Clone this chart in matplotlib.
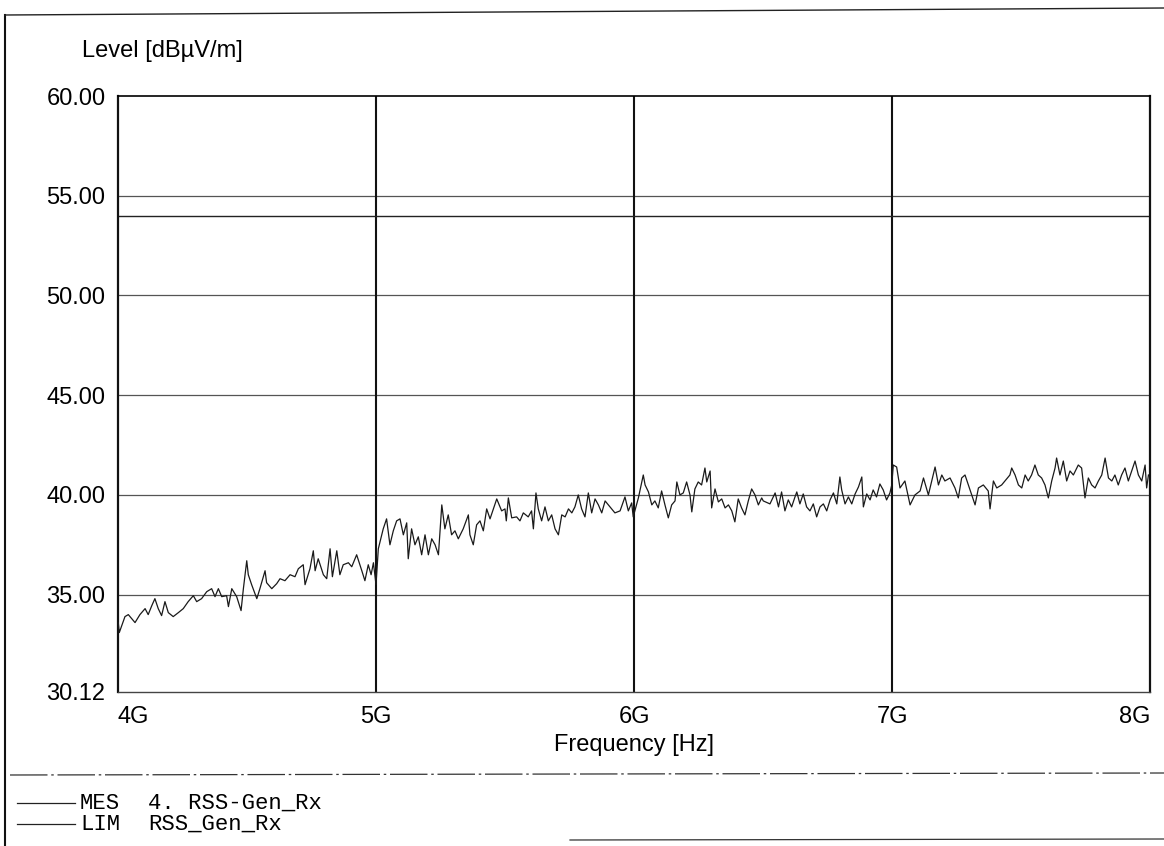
import numpy as np
import matplotlib
matplotlib.use("Agg")
import matplotlib.pyplot as plt
from matplotlib.lines import Line2D

freq_ghz = [
    4.001, 4.005, 4.027, 4.040, 4.066, 4.085, 4.105, 4.117, 4.131, 4.143,
    4.156, 4.169, 4.182, 4.195, 4.214, 4.234, 4.253, 4.272, 4.292, 4.305,
    4.324, 4.344, 4.363, 4.376, 4.389, 4.402, 4.421, 4.428, 4.441, 4.460,
    4.477, 4.486, 4.499, 4.505, 4.518, 4.538, 4.550, 4.570, 4.576, 4.596,
    4.615, 4.628, 4.647, 4.667, 4.686, 4.699, 4.718, 4.725, 4.744, 4.757,
    4.764, 4.776, 4.796, 4.809, 4.822, 4.831, 4.848, 4.860, 4.873, 4.893,
    4.906, 4.925, 4.945, 4.957, 4.970, 4.981, 4.990, 5.000, 5.009, 5.028,
    5.041, 5.054, 5.067, 5.080, 5.093, 5.106, 5.119, 5.125, 5.138, 5.151,
    5.164, 5.177, 5.190, 5.203, 5.216, 5.229, 5.242, 5.255, 5.267, 5.280,
    5.293, 5.306, 5.319, 5.338, 5.358, 5.364, 5.377, 5.390, 5.403, 5.416,
    5.429, 5.442, 5.455, 5.468, 5.487, 5.500, 5.505, 5.513, 5.526, 5.545,
    5.558, 5.571, 5.590, 5.603, 5.610, 5.620, 5.629, 5.642, 5.655, 5.668,
    5.681, 5.694, 5.707, 5.720, 5.733, 5.746, 5.759, 5.771, 5.784, 5.797,
    5.810, 5.823, 5.836, 5.849, 5.862, 5.875, 5.888, 5.907, 5.926, 5.946,
    5.965, 5.978, 5.991, 5.997, 6.017, 6.036, 6.043, 6.056, 6.069, 6.081,
    6.094, 6.107, 6.120, 6.133, 6.146, 6.159, 6.166, 6.178, 6.191, 6.204,
    6.217, 6.224, 6.236, 6.249, 6.262, 6.275, 6.282, 6.295, 6.301, 6.314,
    6.327, 6.340, 6.353, 6.366, 6.379, 6.391, 6.404, 6.417, 6.430, 6.443,
    6.456, 6.469, 6.482, 6.495, 6.501, 6.527, 6.547, 6.560, 6.572, 6.585,
    6.598, 6.611, 6.624, 6.631, 6.643, 6.656, 6.669, 6.682, 6.695, 6.708,
    6.721, 6.734, 6.747, 6.760, 6.773, 6.786, 6.798, 6.805, 6.818, 6.831,
    6.844, 6.857, 6.870, 6.883, 6.889, 6.902, 6.915, 6.927, 6.940, 6.953,
    6.966, 6.979, 6.992, 6.999, 7.005, 7.018, 7.031, 7.050, 7.070, 7.089,
    7.109, 7.122, 7.141, 7.154, 7.167, 7.180, 7.193, 7.205, 7.225, 7.244,
    7.257, 7.270, 7.283, 7.296, 7.309, 7.322, 7.335, 7.354, 7.373, 7.380,
    7.393, 7.406, 7.425, 7.438, 7.457, 7.464, 7.477, 7.490, 7.503, 7.516,
    7.528, 7.541, 7.554, 7.567, 7.580, 7.593, 7.606, 7.619, 7.632, 7.638,
    7.651, 7.664, 7.677, 7.690, 7.703, 7.722, 7.735, 7.748, 7.761, 7.774,
    7.787, 7.800, 7.813, 7.826, 7.839, 7.852, 7.864, 7.877, 7.890, 7.903,
    7.916, 7.929, 7.942, 7.955, 7.968, 7.981, 7.987, 7.994,
]
level_dbuv = [
    33.6, 33.1, 33.9, 34.0, 33.6, 34.0, 34.3, 34.0, 34.45, 34.8,
    34.3, 33.95, 34.65, 34.1, 33.9, 34.1, 34.3, 34.65, 34.95, 34.65,
    34.8, 35.15, 35.3, 34.9, 35.3, 34.9, 34.95, 34.4, 35.3, 34.9,
    34.2, 35.3, 36.7, 36.0, 35.5, 34.8, 35.3, 36.2, 35.6, 35.3,
    35.55, 35.8, 35.7, 36.0, 35.9, 36.3, 36.5, 35.5, 36.3, 37.2,
    36.2, 36.8, 36.0, 35.8, 37.3, 35.9, 37.2, 36.0, 36.5, 36.6,
    36.4, 37.0, 36.2, 35.7, 36.5, 36.0, 36.6, 35.5, 37.3, 38.3,
    38.8, 37.5, 38.2, 38.7, 38.8, 38.0, 38.6, 36.8, 38.3, 37.5,
    37.9, 37.0, 38.0, 37.0, 37.8, 37.5, 37.0, 39.5, 38.3, 39.0,
    38.0, 38.2, 37.8, 38.3, 39.0, 38.0, 37.5, 38.5, 38.7, 38.2,
    39.3, 38.8, 39.3, 39.8, 39.2, 39.3, 38.7, 39.85, 38.85, 38.9,
    38.7, 39.1, 38.9, 39.2, 38.3, 40.1, 39.3, 38.7, 39.4, 38.7,
    39.0, 38.3, 38.0, 39.0, 38.9, 39.3, 39.1, 39.4, 40.0, 39.3,
    38.9, 40.1, 39.1, 39.8, 39.5, 39.1, 39.7, 39.4, 39.1, 39.2,
    39.9, 39.2, 39.6, 38.9, 39.85, 41.0, 40.5, 40.15, 39.5, 39.7,
    39.35, 40.2, 39.5, 38.85, 39.5, 39.7, 40.65, 40.0, 40.1, 40.65,
    40.0, 39.15, 40.3, 40.65, 40.5, 41.35, 40.65, 41.2, 39.35, 40.3,
    39.65, 39.8, 39.35, 39.5, 39.2, 38.65, 39.8, 39.35, 39.0, 39.7,
    40.3, 40.0, 39.5, 39.85, 39.7, 39.55, 40.1, 39.4, 40.15, 39.2,
    39.75, 39.4, 39.9, 40.15, 39.55, 40.05, 39.4, 39.2, 39.55, 38.9,
    39.4, 39.55, 39.2, 39.75, 40.1, 39.55, 40.9, 40.25, 39.55, 39.9,
    39.55, 40.05, 40.4, 40.9, 39.4, 40.05, 39.75, 40.25, 39.9, 40.55,
    40.25, 39.75, 40.1, 40.5, 41.5, 41.4, 40.35, 40.7, 39.5, 40.0,
    40.2, 40.85, 40.0, 40.7, 41.4, 40.5, 41.0, 40.7, 40.85, 40.35,
    39.85, 40.85, 41.0, 40.5, 40.0, 39.5, 40.35, 40.5, 40.2, 39.3,
    40.7, 40.35, 40.5, 40.7, 41.0, 41.35, 41.0, 40.5, 40.35, 41.0,
    40.7, 41.0, 41.5, 41.0, 40.85, 40.5, 39.85, 40.7, 41.35, 41.85,
    41.0, 41.7, 40.7, 41.2, 41.0, 41.5, 41.35, 39.85, 40.85, 40.5,
    40.35, 40.7, 41.0, 41.85, 40.85, 40.7, 41.0, 40.5, 41.0, 41.35,
    40.7, 41.2, 41.7, 41.0, 40.7, 41.5, 40.35, 41.0,
]

# limit line RSS_Gen_Rx
limit_freq = [4.0, 8.0]
limit_level = [54.0, 54.0]

x_ticks = [4, 5, 6, 7, 8]
x_labels = ["4G", "5G", "6G", "7G", "8G"]
y_ticks = [30.12, 35, 40, 45, 50, 55, 60]
y_labels = ["30.12", "35.00", "40.00", "45.00", "50.00", "55.00", "60.00"]

legend_rows = [("MES", "4. RSS-Gen_Rx"), ("LIM", "RSS_Gen_Rx")]

W, H = 1164, 846
fig = plt.figure(figsize=(W / 100, H / 100), dpi=100)
fig.patch.set_facecolor("white")


def fx(x):
    return x / W


def fy(y):
    return 1 - y / H


ax = fig.add_axes([fx(118), fy(692), fx(1150) - fx(118), fy(96) - fy(692)])
ax.set_xlim(4, 8)
ax.set_ylim(30.12, 60)

# grid: horizontal light, vertical dark
for yv in [35, 40, 45, 50, 55]:
    ax.axhline(yv, color="#555555", lw=0.9, zorder=1)
for xv in [5, 6, 7]:
    ax.axvline(xv, color="#111111", lw=1.5, zorder=1)

ax.plot(limit_freq, limit_level, color="#222222", lw=1.0, zorder=2)
ax.plot(freq_ghz, level_dbuv, color="#1a1a1a", lw=0.9, zorder=3)

for s in ["left", "right"]:
    ax.spines[s].set_linewidth(1.6)
    ax.spines[s].set_color("#111111")
ax.spines["top"].set_linewidth(1.2)
ax.spines["bottom"].set_linewidth(1.0)
ax.spines["bottom"].set_color("#444444")

font = "Liberation Sans"
ax.set_xticks(x_ticks)
ax.set_xticklabels(x_labels, fontsize=17, family=font)
ax.set_yticks(y_ticks)
ax.set_yticklabels(y_labels, fontsize=17, family=font)
ax.tick_params(length=0, pad=10)
ax.tick_params(axis="y", pad=9)
ax.tick_params(axis="x", pad=10)
xl = ax.get_xticklabels()
xl[0].set_ha("left")
xl[-1].set_ha("right")

fig.text(fx(82), fy(51), "Level [dB\u00b5V/m]", fontsize=17, family=font,
         ha="left", va="center")
fig.text(fx(634), fy(745), "Frequency [Hz]", fontsize=17, family=font,
         ha="center", va="center")

# outer frame and separator lines of the print-out
fig.add_artist(Line2D([fx(5), fx(5)], [fy(15), fy(846)], color="#111111", lw=1.5))
fig.add_artist(Line2D([fx(5), fx(1164)], [fy(15), fy(8)], color="#222222", lw=1.0))
fig.add_artist(Line2D([fx(10), fx(1164)], [fy(775), fy(773)], color="#333333",
                      lw=0.9, ls=(0, (30, 3, 2, 3))))
fig.add_artist(Line2D([fx(570), fx(1164)], [fy(840), fy(839)], color="#333333", lw=0.9))

# legend
mono = "Liberation Mono"
for i, (tag, name) in enumerate(legend_rows):
    yy = 803 + i * 21
    fig.add_artist(Line2D([fx(17), fx(75)], [fy(yy), fy(yy)], color="#222222", lw=0.9))
    fig.text(fx(80), fy(yy), tag, fontsize=16, family=mono, ha="left", va="center")
    fig.text(fx(148), fy(yy), name, fontsize=16, family=mono, ha="left", va="center")

fig.savefig("out.png", dpi=100)
